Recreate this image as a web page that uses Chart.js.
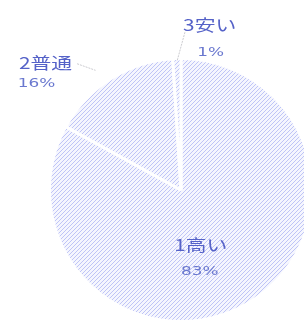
<!DOCTYPE html>
<html><head><meta charset="utf-8">
<script src="https://cdn.jsdelivr.net/npm/chart.js@4.4.0/dist/chart.umd.min.js"></script>
<style>
html,body{margin:0;padding:0;background:#fff;overflow:hidden;width:304px;height:326px;}
#wrap{position:absolute;left:0;top:0;width:330px;height:326px;}
</style></head><body>
<div id="wrap"><canvas id="c"></canvas></div>
<script>
const categories = ['1高い', '2普通', '3安い'];
const values = [83, 16, 1];
const percentLabels = ['83%', '16%', '1%'];

function hatch() {
  const s = 8;
  const t = document.createElement('canvas');
  t.width = s; t.height = s;
  const g = t.getContext('2d');
  g.fillStyle = '#f5f6fe';
  g.fillRect(0, 0, s, s);
  g.strokeStyle = 'rgba(145,155,238,0.55)';
  g.lineWidth = 1;
  g.beginPath();
  for (let k = -s; k <= s; k += 4) {
    g.moveTo(k, s); g.lineTo(k + s, 0);
  }
  g.stroke();
  return g.createPattern(t, 'repeat');
}

// label placement relative to pie centre, in units of radius (style only)
const labelPos = [
  {name: [0.15, 0.414], pct: [0.143, 0.617], leader: null},
  {name: [-1.03, -0.97], pct: [-1.098, -0.812], leader: [[-0.79, -0.96], [-0.65, -0.91]]},
  {name: [0.218, -1.256], pct: [0.226, -1.045], leader: [[0.03, -1.2], [-0.03, -0.98]]}
];

const labelPlugin = {
  id: 'pieLabels',
  afterDatasetsDraw(chart) {
    const ctx = chart.ctx;
    const meta = chart.getDatasetMeta(0);
    const arc = meta.data[0];
    const cx = arc.x, cy = arc.y, r = arc.outerRadius;
    meta.data.forEach((el, i) => {
      const p = labelPos[i];
      if (p.leader) {
        ctx.save();
        ctx.strokeStyle = 'rgba(160,160,170,0.55)';
        ctx.lineWidth = 1;
        ctx.setLineDash([2, 1]);
        ctx.beginPath();
        ctx.moveTo(cx + p.leader[0][0] * r, cy + p.leader[0][1] * r);
        ctx.lineTo(cx + p.leader[1][0] * r, cy + p.leader[1][1] * r);
        ctx.stroke();
        ctx.restore();
      }
      ctx.save();
      ctx.textAlign = 'center';
      ctx.textBaseline = 'middle';
      ctx.translate(cx + p.name[0] * r, cy + p.name[1] * r);
      ctx.scale(1.3, 1);
      ctx.fillStyle = '#5562c8';
      ctx.font = '16px "Noto Sans CJK JP", sans-serif';
      ctx.fillText(categories[i], 0, 0);
      ctx.restore();
      ctx.save();
      ctx.textAlign = 'center';
      ctx.textBaseline = 'middle';
      ctx.translate(cx + p.pct[0] * r, cy + p.pct[1] * r);
      ctx.scale(1.3, 1);
      ctx.fillStyle = '#6a78cf';
      ctx.font = '13px "DejaVu Sans", sans-serif';
      ctx.fillText(percentLabels[i], 0, 0);
      ctx.restore();
    });
  }
};

new Chart(document.getElementById('c'), {
  type: 'pie',
  data: {
    labels: categories,
    datasets: [{
      data: values,
      backgroundColor: [hatch(), hatch(), hatch()],
      borderColor: '#ffffff',
      borderWidth: 3
    }]
  },
  options: {
    responsive: true,
    maintainAspectRatio: false,
    animation: false,
    layout: {padding: {left: 48, right: 16, top: 57, bottom: 3}},
    plugins: {legend: {display: false}, tooltip: {enabled: false}, title: {display: false}}
  },
  plugins: [labelPlugin]
});
</script>
</body></html>
